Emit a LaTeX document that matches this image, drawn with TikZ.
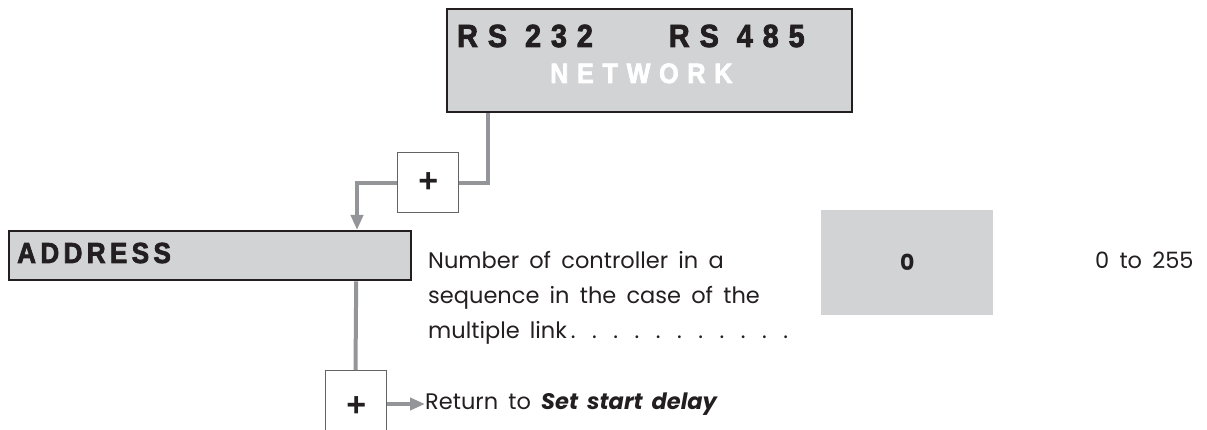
\documentclass[tikz,border=0pt]{standalone}
\usepackage{fontspec}
\setmainfont[WordSpace=1.7]{Poppins}
\newfontfamily\hdr[FakeStretch=0.9,LetterSpace=31,FakeBold=2.5]{Liberation Sans Bold}
\newfontfamily\hdrb[FakeStretch=0.9,LetterSpace=15,FakeBold=2.5]{Liberation Sans Bold}
\newfontfamily\plusfont{Liberation Sans Bold}
\usetikzlibrary{arrows.meta,calc}
\definecolor{boxgray}{RGB}{209,211,212}
\definecolor{linegray}{RGB}{147,149,152}
\definecolor{ink}{RGB}{35,31,32}
\definecolor{pluslinecol}{RGB}{100,100,103}
\newcommand{\leaderdots}{.\foreach \i in {1,...,10}{\hspace{16.5pt}.}}
\tikzset{
  mainbox/.style={draw=ink, line width=2.4pt, fill=boxgray, anchor=north west, inner sep=0pt},
  plusbox/.style={draw=pluslinecol, line width=1.4pt, fill=white, anchor=north west, inner sep=0pt, minimum width=61pt, font=\plusfont\fontsize{34}{34}\selectfont, text=ink},
  valbox/.style={fill=boxgray, anchor=north west, inner sep=0pt, minimum width=172pt, minimum height=105pt, font=\fontsize{22}{22}\selectfont\bfseries, text=ink},
  conn/.style={draw=linegray, line width=4pt},
  arr/.style={conn, -{Triangle[length=15pt,width=12pt]}},
  body/.style={inner sep=0pt, anchor=base west, font=\fontsize{22.5}{35}\selectfont, text=ink, align=left},
  hdrtext/.style={inner sep=0pt, anchor=base west, font=\hdr\fontsize{32}{32}\selectfont}
}
\begin{document}
\begin{tikzpicture}[x=1pt,y=-1pt]
\useasboundingbox (0,0) rectangle (1207,430);
% boxes
\node[mainbox, minimum width=405pt, minimum height=103pt] (top) at (446,8) {};
\node[hdrtext, text=ink] (h1) at (457,47) {RS 232\hspace{76pt}RS 485};
\node[hdrtext, text=white, font=\hdr\fontsize{28}{28}\selectfont] (h2) at (550,83) {NETWORK};
\node[plusbox, minimum height=60pt] (p1) at (397,152) {+};
\node[mainbox, minimum width=402pt, minimum height=49pt] (addr) at (8,230) {};
\node[hdrtext, text=ink, font=\hdrb\fontsize{29}{29}\selectfont] (a1) at (17,263) {ADDRESS};
\node[plusbox, minimum height=75pt] (p2) at (325,370) {\raisebox{4pt}{+}};
\node[valbox] (v) at (821,210) {0};
% texts
\node[body] (desc) at (428,338) {Number of controller in a\\sequence in the case of the\\multiple link\hspace{4pt}\leaderdots};
\node[body] (range) at (1095,269) {0 to 255};
\node[body, anchor=west] (ret) at (425,404) {Return to \textbf{\textit{Set start delay}}};
% connectors
\draw[conn] ($(top.south west)+(42,0)$) |- (p1.east);
\draw[arr] (p1.west) -| ($(addr.north west)+(349,0)$);
\draw[conn] (addr.south -| p2.north) -- ($(p2.north west)+(30.5,0)$);
\draw[arr] (p2.east |- ret.west) -- (ret.west);
\end{tikzpicture}
\end{document}
